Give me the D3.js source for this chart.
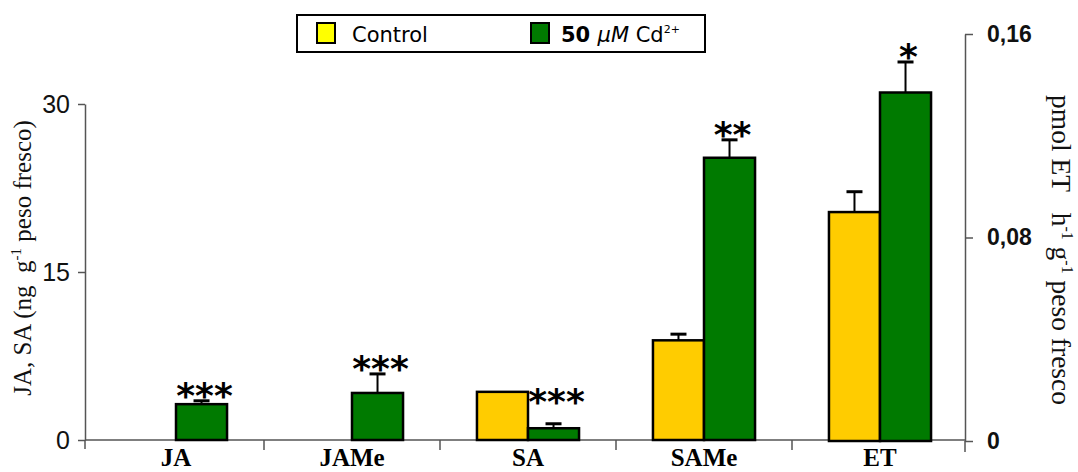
<!DOCTYPE html>
<html>
<head>
<meta charset="utf-8">
<script src="https://cdn.jsdelivr.net/npm/d3@7"></script>
<style>
  html, body { margin: 0; padding: 0; background: #fff; }
  svg { display: block; }
</style>
</head>
<body>
<svg id="chart" width="1078" height="472"></svg>
<script>
// Hormone and ethylene contents, control vs. 50 µM Cd2+
const categories = ["JA", "JAMe", "SA", "SAMe", "ET"];
const controlValues = [0, 0, 4.3, 8.9, 0.090];
const cadmiumValues = [3.2, 4.2, 1.05, 25.2, 0.137];
const controlErrors = [0, 0, 0, 0.55, 0.008];
const cadmiumErrors = [0.3, 1.7, 0.4, 1.6, 0.012];
const significance = ["***", "***", "***", "**", "*"];
const rightAxisCategories = ["ET"];
const leftTicks = [0, 15, 30];
const rightTicks = [0, 0.08, 0.16];
const seriesNames = ["Control", "Cd"];

const COLORS = { Control: "#FFCC00", Cd: "#007A00" };

const svg = d3.select("#chart");

const leftX = 85, rightX = 965;
const x = d3.scaleBand().domain(categories).range([88, 968]).paddingInner(0.42).paddingOuter(0.21);
const xs = d3.scaleBand().domain(seriesNames).range([0, x.bandwidth()]);
const yLeft = d3.scaleLinear().domain([0, 30]).range([440, 104]);
const yRight = d3.scaleLinear().domain([0, 0.16]).range([441, 34]);

const rows = categories.map((c, i) => ({
  cat: c,
  y: rightAxisCategories.includes(c) ? yRight : yLeft,
  vals: [
    { s: "Control", v: controlValues[i], e: controlErrors[i] },
    { s: "Cd", v: cadmiumValues[i], e: cadmiumErrors[i] }
  ],
  sig: significance[i]
}));

// Left axis
const gL = svg.append("g").attr("transform", `translate(${leftX},0)`)
  .call(d3.axisLeft(yLeft).tickValues(leftTicks).tickSize(7).tickSizeOuter(0).tickPadding(8).tickFormat(d3.format("d")));
gL.select(".domain").attr("stroke", "#555").attr("stroke-width", 1.5);
gL.selectAll(".tick line").attr("stroke", "#555").attr("stroke-width", 1.5);
gL.selectAll(".tick text").attr("font-family", "Liberation Sans, Arial, sans-serif")
  .attr("font-size", 25).attr("fill", "#111");
svg.append("line").attr("x1", leftX).attr("x2", leftX).attr("y1", yLeft(0)).attr("y2", yLeft(0) + 9)
  .attr("stroke", "#555").attr("stroke-width", 1.5);

// Right axis
const gR = svg.append("g").attr("transform", `translate(${rightX},0)`)
  .call(d3.axisRight(yRight).tickValues(rightTicks).tickSize(8).tickSizeOuter(0).tickPadding(14)
    .tickFormat(d => d === 0 ? "0" : d3.format(".2f")(d).replace(".", ",")));
gR.select(".domain").attr("stroke", "#555").attr("stroke-width", 1.5);
gR.selectAll(".tick line").attr("stroke", "#555").attr("stroke-width", 1.5);
gR.selectAll(".tick text").attr("font-family", "Liberation Sans, Arial, sans-serif")
  .attr("font-weight", "bold").attr("font-size", 23).attr("fill", "#111");
svg.append("line").attr("x1", rightX).attr("x2", rightX).attr("y1", yRight(0)).attr("y2", yRight(0) + 11)
  .attr("stroke", "#555").attr("stroke-width", 1.5);

// Category baseline and separators
svg.append("line").attr("x1", leftX).attr("x2", rightX).attr("y1", yLeft(0)).attr("y2", yLeft(0))
  .attr("stroke", "#555").attr("stroke-width", 1.5);
const boundaries = categories.slice(0, -1).map(c => x(c) + x.bandwidth() / 2 + x.step() / 2);
svg.append("g").selectAll("line").data(boundaries).join("line")
  .attr("x1", d => d).attr("x2", d => d).attr("y1", yLeft(0)).attr("y2", yLeft(0) + 10)
  .attr("stroke", "#555").attr("stroke-width", 1.5);

// Category labels
const gX = svg.append("g").attr("transform", `translate(0,${yLeft(0)})`)
  .call(d3.axisBottom(x).tickSize(0).tickPadding(0));
gX.select(".domain").remove();
gX.selectAll(".tick text").attr("font-family", "Liberation Serif, Times New Roman, serif")
  .attr("font-weight", "bold").attr("font-size", 25).attr("fill", "#000")
  .attr("dy", null).attr("y", 26);

// Bars
const groups = svg.append("g").selectAll("g").data(rows).join("g")
  .attr("transform", d => `translate(${x(d.cat)},0)`);

groups.each(function (row) {
  const g = d3.select(this);
  const y = row.y;
  g.selectAll("rect").data(row.vals).join("rect")
    .attr("x", d => xs(d.s))
    .attr("width", xs.bandwidth())
    .attr("y", d => y(d.v))
    .attr("height", d => y(0) - y(d.v))
    .attr("fill", d => COLORS[d.s])
    .attr("stroke", "#000").attr("stroke-width", 2.5);

  const errs = row.vals.filter(d => d.e > 0);
  g.selectAll("line.err").data(errs).join("line").attr("class", "err")
    .attr("x1", d => xs(d.s) + xs.bandwidth() / 2).attr("x2", d => xs(d.s) + xs.bandwidth() / 2)
    .attr("y1", d => y(d.v)).attr("y2", d => y(d.v + d.e))
    .attr("stroke", "#000").attr("stroke-width", 2);
  g.selectAll("line.cap").data(errs).join("line").attr("class", "cap")
    .attr("x1", d => xs(d.s) + xs.bandwidth() / 2 - 8).attr("x2", d => xs(d.s) + xs.bandwidth() / 2 + 8)
    .attr("y1", d => y(d.v + d.e)).attr("y2", d => y(d.v + d.e))
    .attr("stroke", "#000").attr("stroke-width", 3);

  // Significance stars: above the treated bar's error bar, never below the control bar top
  const cd = row.vals[1], ctl = row.vals[0];
  const starBottom = Math.min(y(cd.v + cd.e) - 5, y(ctl.v) + 10);
  const fs = 36;
  g.append("text")
    .attr("x", xs("Cd") + xs.bandwidth() / 2 + 3)
    .attr("y", starBottom + 0.33 * fs)
    .attr("text-anchor", "middle")
    .attr("font-family", "DejaVu Sans, sans-serif").attr("font-weight", "bold")
    .attr("font-size", fs).attr("fill", "#000")
    .text(row.sig);
});

// Axis titles
const serif = "Liberation Serif, Times New Roman, serif";
const tL = svg.append("text").attr("transform", "translate(31,258) rotate(-90)")
  .attr("text-anchor", "middle").attr("font-family", serif).attr("font-size", 25).attr("fill", "#111");
tL.append("tspan").text("JA, SA (ng\u00A0\u00A0g");
tL.append("tspan").attr("font-size", 15).attr("dy", -10).text("-1");
tL.append("tspan").attr("dy", 10).text(" peso fresco)");

const tR = svg.append("text").attr("transform", "translate(1052,250) rotate(90)")
  .attr("text-anchor", "middle").attr("font-family", serif).attr("font-size", 27.5).attr("fill", "#111");
tR.append("tspan").text("pmol ET\u00A0\u00A0\u00A0h");
tR.append("tspan").attr("font-size", 16).attr("dy", -10).text("-1");
tR.append("tspan").attr("dy", 10).text("\u00A0g");
tR.append("tspan").attr("font-size", 16).attr("dy", -10).text("-1");
tR.append("tspan").attr("dy", 10).text(" peso fresco");

// Legend
const lg = svg.append("g");
lg.append("rect").attr("x", 297).attr("y", 15).attr("width", 408).attr("height", 37)
  .attr("fill", "#fff").attr("stroke", "#000").attr("stroke-width", 2);
const legendItems = [
  { s: "Control", sx: 317, tx: 352, fill: "#FFFF00" },
  { s: "Cd", sx: 531, tx: 561, fill: COLORS.Cd }
];
lg.selectAll("rect.sw").data(legendItems).join("rect").attr("class", "sw")
  .attr("x", d => d.sx).attr("y", 23).attr("width", 18).attr("height", 20)
  .attr("fill", d => d.fill).attr("stroke", "#000").attr("stroke-width", 2);
const lf = "Comic Sans MS, DejaVu Sans, sans-serif";
lg.append("text").attr("x", 352).attr("y", 41.5).attr("font-family", lf).attr("font-size", 21).attr("fill", "#000")
  .text("Control");
const t2 = lg.append("text").attr("x", 561).attr("y", 41.5).attr("font-family", lf).attr("font-size", 21).attr("fill", "#000");
t2.append("tspan").attr("font-weight", "bold").text("50 ");
t2.append("tspan").attr("font-style", "italic").text("\u03BCM");
t2.append("tspan").text(" Cd");
t2.append("tspan").attr("font-size", 11).attr("dy", -9).text("2+");
</script>
</body>
</html>
